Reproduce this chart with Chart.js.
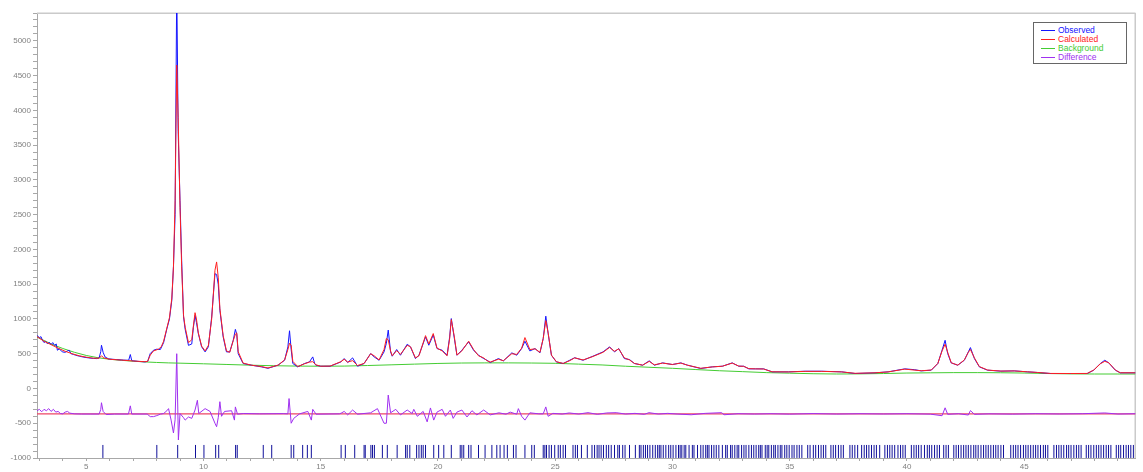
<!DOCTYPE html>
<html><head><meta charset="utf-8">
<script src="https://cdn.jsdelivr.net/npm/chart.js@4/dist/chart.umd.min.js"></script>
<style>
html,body{margin:0;padding:0;background:#fff;}
#wrap{position:relative;width:1143px;height:472px;}
#legend{position:absolute;left:1033px;top:22px;width:94px;height:42px;border:1px solid #666;background:#fff;box-sizing:border-box;font:8.5px "Liberation Sans",Arial,sans-serif;}
.row{position:absolute;left:0;height:9px;line-height:9px;white-space:nowrap;}
.row i{position:absolute;left:7px;top:4px;width:14px;height:1px;}
.row span{position:absolute;left:24px;top:0;}
</style>
</head><body>
<div id="wrap">
<canvas id="c" width="1143" height="472"></canvas>
<div id="legend"></div>
</div>
<script>
// 2-theta (deg) vs intensity
const observed = [[2.90,765],[3.00,730],[3.07,745],[3.13,694],[3.20,660],[3.27,680],[3.35,640],[3.42,665],[3.50,630],[3.57,660],[3.65,620],[3.72,640],[3.77,550],[3.85,570],[3.98,526],[4.10,520],[4.20,540],[4.27,550],[4.35,500],[4.45,490],[4.55,478],[4.70,465],[4.90,450],[5.10,440],[5.30,432],[5.45,430],[5.55,440],[5.62,530],[5.65,622],[5.72,520],[5.80,454],[5.95,425],[6.30,415],[6.60,408],[6.81,406],[6.88,488],[6.94,400],[7.20,390],[7.50,382],[7.62,390],[7.73,502],[7.87,550],[8.01,565],[8.16,560],[8.30,660],[8.44,860],[8.55,1000],[8.65,1270],[8.72,1750],[8.79,2500],[8.86,5800],[8.92,3700],[9.00,2700],[9.07,1840],[9.15,1030],[9.22,850],[9.36,620],[9.50,640],[9.57,880],[9.64,1050],[9.70,950],[9.78,790],[9.92,600],[10.07,526],[10.21,600],[10.35,1028],[10.49,1650],[10.56,1640],[10.63,1500],[10.70,1124],[10.84,742],[10.98,526],[11.12,526],[11.27,694],[11.36,850],[11.42,780],[11.48,502],[11.69,359],[12.04,335],[12.47,311],[12.75,290],[13.18,335],[13.46,406],[13.60,598],[13.67,830],[13.74,560],[13.81,359],[14.02,311],[14.31,359],[14.52,382],[14.66,454],[14.75,350],[14.80,335],[15.00,320],[15.40,320],[15.86,382],[16.00,430],[16.15,373],[16.36,440],[16.57,320],[16.85,359],[17.13,502],[17.28,454],[17.49,406],[17.70,526],[17.80,650],[17.88,840],[17.98,526],[18.05,464],[18.24,560],[18.40,478],[18.69,636],[18.83,598],[19.04,430],[19.19,478],[19.47,741],[19.61,622],[19.80,770],[19.96,574],[20.18,550],[20.39,478],[20.50,741],[20.57,1005],[20.70,718],[20.81,478],[21.02,550],[21.31,670],[21.52,550],[21.73,478],[21.95,430],[22.09,406],[22.23,373],[22.58,430],[22.79,396],[23.15,512],[23.36,478],[23.57,574],[23.71,680],[23.92,540],[24.14,574],[24.35,512],[24.49,718],[24.60,1040],[24.70,789],[24.84,478],[25.05,382],[25.34,359],[25.62,406],[25.83,442],[26.19,406],[26.61,464],[27.04,526],[27.32,598],[27.53,526],[27.71,574],[27.95,430],[28.17,416],[28.38,359],[28.73,335],[29.01,397],[29.23,335],[29.58,368],[30.00,344],[30.36,368],[30.64,335],[31.21,287],[31.70,311],[32.13,320],[32.55,368],[32.83,320],[33.04,320],[33.26,282],[33.54,282],[33.89,282],[34.25,239],[34.95,239],[35.66,248],[36.37,248],[37.22,239],[37.79,215],[38.64,225],[39.20,239],[39.91,282],[40.33,270],[40.61,253],[41.04,263],[41.32,359],[41.50,550],[41.63,693],[41.74,502],[41.89,368],[42.17,335],[42.45,406],[42.62,526],[42.71,588],[42.88,430],[43.09,311],[43.44,263],[44.01,249],[44.58,253],[45.14,239],[45.57,230],[46.13,215],[46.98,215],[47.69,215],[47.97,263],[48.25,359],[48.44,406],[48.61,368],[48.89,263],[49.10,225],[49.75,225]];

const calculated = [[2.90,745],[3.20,680],[3.50,630],[3.80,580],[4.10,535],[4.40,500],[4.70,470],[5.00,450],[5.30,435],[5.55,435],[5.65,470],[5.75,440],[6.00,420],[6.50,408],[7.00,395],[7.50,385],[7.62,390],[7.73,480],[7.87,540],[8.08,565],[8.20,600],[8.30,680],[8.44,870],[8.55,1020],[8.65,1300],[8.72,1750],[8.79,2700],[8.86,4650],[8.92,3900],[9.00,2600],[9.07,1750],[9.15,1050],[9.22,880],[9.36,660],[9.50,700],[9.57,900],[9.64,1090],[9.70,1000],[9.78,800],[9.92,610],[10.07,540],[10.21,620],[10.35,1000],[10.49,1700],[10.56,1820],[10.63,1600],[10.70,1150],[10.84,760],[10.98,540],[11.12,520],[11.27,690],[11.36,780],[11.42,800],[11.48,530],[11.69,365],[12.04,335],[12.47,315],[12.75,295],[13.18,335],[13.46,410],[13.60,560],[13.67,650],[13.74,620],[13.81,390],[14.02,315],[14.31,355],[14.52,380],[14.66,385],[14.80,340],[15.00,320],[15.40,322],[15.86,385],[16.00,420],[16.15,380],[16.36,400],[16.57,330],[16.85,360],[17.13,500],[17.28,470],[17.49,410],[17.70,560],[17.80,718],[17.88,700],[17.98,540],[18.05,470],[18.24,545],[18.40,490],[18.69,620],[18.83,600],[19.04,440],[19.19,470],[19.47,760],[19.61,640],[19.80,790],[19.96,580],[20.18,540],[20.39,470],[20.50,720],[20.57,990],[20.70,740],[20.81,480],[21.02,540],[21.31,680],[21.52,560],[21.73,470],[21.95,440],[22.09,400],[22.23,380],[22.58,420],[22.79,400],[23.15,500],[23.36,490],[23.57,580],[23.71,732],[23.92,560],[24.14,570],[24.35,520],[24.49,720],[24.60,976],[24.70,800],[24.84,480],[25.05,385],[25.34,360],[25.62,400],[25.83,440],[26.19,410],[26.61,460],[27.04,520],[27.32,590],[27.53,535],[27.71,570],[27.95,440],[28.17,410],[28.38,360],[28.73,335],[29.01,390],[29.23,340],[29.58,365],[30.00,345],[30.36,365],[30.64,335],[31.21,290],[31.70,310],[32.13,320],[32.55,365],[32.83,322],[33.04,318],[33.26,285],[33.54,282],[33.89,280],[34.25,240],[34.95,238],[35.66,246],[36.37,246],[37.22,238],[37.79,218],[38.64,225],[39.20,238],[39.91,278],[40.61,255],[41.04,265],[41.32,360],[41.50,540],[41.63,636],[41.74,520],[41.89,370],[42.17,335],[42.45,410],[42.62,520],[42.71,560],[42.88,440],[43.09,315],[43.44,265],[44.01,250],[44.58,252],[45.14,240],[45.57,230],[46.13,216],[46.98,215],[47.69,216],[47.97,265],[48.25,355],[48.44,390],[48.61,370],[48.89,265],[49.10,226],[49.75,225]];

const background = [[2.90,740],[3.50,640],[4.00,575],[4.50,520],[5.00,475],[5.50,442],[6.00,420],[6.50,405],[7.00,392],[7.50,382],[8.00,374],[8.50,368],[9.00,364],[10.00,355],[11.00,345],[12.00,335],[13.00,327],[14.00,322],[15.00,320],[16.00,322],[17.00,330],[18.00,340],[19.00,350],[20.00,360],[21.00,366],[22.00,368],[23.00,368],[24.00,366],[25.00,362],[26.00,350],[27.00,338],[28.00,320],[29.00,305],[30.00,290],[31.00,272],[32.00,255],[33.00,242],[34.00,228],[35.00,220],[36.00,212],[37.00,208],[38.00,210],[39.00,215],[40.00,222],[41.00,225],[42.00,228],[43.00,228],[44.00,226],[45.00,222],[46.00,215],[47.00,210],[48.00,208],[49.00,208],[49.75,208]];

// difference curve as plotted (offset baseline near -365)
const difference = [[2.90,-320],[3.00,-300],[3.10,-335],[3.20,-300],[3.30,-320],[3.40,-290],[3.50,-330],[3.60,-300],[3.70,-340],[3.80,-330],[3.90,-360],[4.00,-365],[4.10,-340],[4.20,-330],[4.30,-355],[4.50,-365],[4.80,-368],[5.20,-368],[5.55,-368],[5.62,-300],[5.65,-205],[5.72,-330],[5.85,-375],[6.20,-368],[6.80,-368],[6.88,-250],[6.94,-368],[7.60,-368],[7.73,-405],[7.87,-405],[8.01,-390],[8.16,-370],[8.30,-360],[8.44,-320],[8.51,-290],[8.62,-455],[8.72,-640],[8.79,-450],[8.86,500],[8.93,-740],[9.00,-360],[9.15,-420],[9.22,-455],[9.36,-410],[9.50,-430],[9.64,-310],[9.74,-170],[9.80,-360],[10.07,-290],[10.28,-330],[10.49,-500],[10.56,-550],[10.63,-420],[10.70,-190],[10.77,-400],[10.90,-330],[11.20,-320],[11.32,-455],[11.36,-265],[11.45,-370],[11.70,-360],[12.40,-365],[13.40,-362],[13.60,-365],[13.65,-145],[13.74,-500],[13.85,-430],[14.10,-365],[14.45,-330],[14.60,-455],[14.66,-300],[14.80,-370],[15.80,-365],[15.90,-350],[16.00,-330],[16.15,-380],[16.36,-310],[16.57,-370],[17.13,-350],[17.42,-290],[17.70,-500],[17.80,-500],[17.88,-95],[17.98,-350],[18.20,-300],[18.40,-380],[18.69,-310],[18.90,-360],[18.97,-300],[19.12,-400],[19.37,-330],[19.54,-480],[19.68,-280],[19.82,-455],[19.96,-340],[20.18,-300],[20.32,-400],[20.53,-310],[20.65,-430],[20.81,-340],[21.02,-310],[21.24,-410],[21.45,-320],[21.66,-380],[21.95,-310],[22.23,-380],[22.60,-350],[22.90,-370],[23.08,-340],[23.36,-370],[23.43,-290],[23.57,-400],[23.71,-455],[23.92,-350],[24.30,-365],[24.49,-365],[24.60,-265],[24.70,-400],[24.90,-358],[25.30,-368],[25.60,-352],[26.00,-368],[26.40,-348],[26.80,-372],[27.20,-352],[27.60,-348],[28.00,-368],[28.40,-358],[28.80,-372],[29.00,-348],[29.40,-368],[29.80,-358],[30.20,-368],[30.80,-378],[31.40,-358],[32.10,-348],[32.20,-378],[32.80,-363],[33.50,-368],[34.20,-363],[35.00,-369],[36.00,-361],[37.00,-368],[38.00,-363],[39.00,-367],[40.00,-363],[41.00,-369],[41.50,-392],[41.63,-278],[41.74,-372],[42.20,-363],[42.62,-382],[42.71,-318],[42.88,-372],[43.50,-365],[44.50,-369],[45.50,-363],[46.50,-367],[47.50,-363],[48.44,-352],[49.00,-368],[49.75,-363]];

const diffZero = [[2.90,-365],[49.75,-365]];

// reflection (hkl) positions
const reflections = [5.71,8.01,8.90,9.66,10.02,10.52,10.65,11.37,11.44,12.55,12.91,13.74,13.85,14.23,14.43,14.60,15.87,16.05,16.45,16.85,16.90,17.14,17.21,17.29,17.63,17.84,18.26,18.62,18.69,18.80,19.09,19.19,19.29,19.37,19.47,19.82,20.03,20.25,20.57,20.95,21.02,21.10,21.31,21.41,21.73,22.01,22.30,22.51,22.65,22.82,22.96,23.22,23.33,23.71,24.00,24.11,24.49,24.56,24.63,24.74,24.84,24.98,25.13,25.22,25.34,25.44,25.76,25.86,25.95,26.12,26.37,26.57,26.68,26.79,26.87,26.96,27.06,27.18,27.28,27.39,27.53,27.67,27.74,27.88,27.98,28.17,28.42,28.59,28.66,28.76,28.85,28.94,29.04,29.16,29.27,29.37,29.44,29.51,29.61,29.72,29.84,29.93,30.03,30.15,30.26,30.33,30.40,30.50,30.57,30.71,30.85,30.92,31.07,31.21,31.31,31.42,31.49,31.56,31.67,31.77,31.87,31.98,32.13,32.27,32.34,32.48,32.55,32.66,32.76,32.83,32.95,33.05,33.14,33.26,33.37,33.47,33.57,33.68,33.75,33.82,33.96,34.04,34.11,34.22,34.32,34.39,34.50,34.60,34.67,34.79,34.88,34.98,35.10,35.19,35.31,35.41,35.52,35.77,35.87,36.01,36.11,36.23,36.34,36.44,36.54,36.76,36.86,36.96,37.08,37.19,37.29,37.57,37.67,37.78,37.90,38.07,38.18,38.28,38.38,38.49,38.60,38.70,38.84,39.06,39.17,39.27,39.37,39.48,39.62,39.73,39.83,39.93,40.19,40.30,40.40,40.50,40.61,40.75,40.87,40.96,41.06,41.18,41.29,41.39,41.57,41.67,41.77,42.00,42.10,42.20,42.31,42.42,42.52,42.62,42.73,42.85,42.94,43.04,43.16,43.27,43.37,43.47,43.58,43.69,43.79,43.89,44.01,44.12,44.43,44.54,44.64,44.74,44.85,44.97,45.07,45.17,45.28,45.39,45.49,45.59,45.70,45.82,45.91,46.01,46.27,46.38,46.48,46.58,46.69,46.81,46.90,47.00,47.12,47.23,47.33,47.43,47.65,47.75,47.85,47.97,48.08,48.18,48.28,48.39,48.50,48.60,48.70,48.93,49.03,49.12,49.24,49.35,49.45,49.55,49.66];

const reflectionLevel = -906;
const seriesNames = ['Observed','Calculated','Background','Difference'];
const seriesColors = ['#1414ff','#ff2020','#44cc33','#a030f0'];
const xMin = 2.9, xMax = 49.75, yMin = -1000, yMax = 5400;

const toXY = arr => arr.map(p => ({x:p[0], y:p[1]}));

// HTML legend
const lg = document.getElementById('legend');
seriesNames.forEach((n,i)=>{
  const r = document.createElement('div');
  r.className='row';
  r.style.top = (3 + i*8.9) + 'px';
  r.innerHTML = '<i style="background:'+seriesColors[i]+'"></i><span style="color:'+seriesColors[i]+'">'+n+'</span>';
  lg.appendChild(r);
});

const framePlugin = {
  id:'frame',
  beforeDatasetsDraw(chart){
    const {ctx, chartArea:a} = chart;
    ctx.save();
    ctx.strokeStyle='#cacaca';
    ctx.lineWidth=1.5;
    ctx.beginPath();
    ctx.moveTo(a.left, a.top+0.25); ctx.lineTo(a.right, a.top+0.25);
    ctx.moveTo(a.right-0.25, a.top); ctx.lineTo(a.right-0.25, a.bottom);
    ctx.stroke();
    ctx.restore();
  }
};

const lineDs = (label, data, color, order, width) => ({
  label, data: toXY(data), borderColor: color, backgroundColor: color,
  borderWidth: width || 1, pointRadius: 0, tension: 0, fill: false, order
});

new Chart(document.getElementById('c'), {
  type: 'line',
  data: {
    datasets: [
      lineDs(seriesNames[1], calculated, seriesColors[1], 1),
      lineDs(seriesNames[0], observed, seriesColors[0], 2),
      lineDs(seriesNames[2], background, seriesColors[2], 3),
      lineDs(seriesNames[3], difference, seriesColors[3], 4),
      lineDs('zero', diffZero, '#ee4466', 5, 1.4),
      {
        label:'Reflections', data: reflections.map(x=>({x, y:reflectionLevel})),
        showLine:false, pointStyle:'line', pointRotation:90, pointRadius:6.5,
        pointBorderColor:'#10109a', pointBorderWidth:1, pointBackgroundColor:'#10109a',
        order: 6
      }
    ]
  },
  options: {
    responsive:false, animation:false, devicePixelRatio:1, events:[],
    layout:{padding:{top:13, right:1, left:0, bottom:0}},
    plugins:{legend:{display:false}, tooltip:{enabled:false}},
    scales:{
      x:{
        type:'linear', min:xMin, max:xMax,
        afterFit(s){ s.height = 14; },
        border:{display:true, color:'#a8a8a8', width:1},
        grid:{drawOnChartArea:false, drawTicks:true, tickLength:3, tickColor:'#a8a8a8'},
        ticks:{stepSize:1, includeBounds:false, autoSkip:false, maxRotation:0, padding:1,
          color:'#808080', font:{family:'"Liberation Sans", Arial, sans-serif', size:8},
          callback:v => (Math.round(v) % 5 === 0 ? String(Math.round(v)) : '')}
      },
      y:{
        type:'linear', min:yMin, max:yMax,
        afterFit(s){ s.width = 37; },
        border:{display:true, color:'#a8a8a8', width:1},
        grid:{drawOnChartArea:false, drawTicks:true, tickLength:4, tickColor:'#a8a8a8'},
        ticks:{stepSize:100, includeBounds:false, autoSkip:false, padding:2,
          color:'#808080', font:{family:'"Liberation Sans", Arial, sans-serif', size:8},
          callback:v => (Math.round(v) % 500 === 0 ? String(Math.round(v)) : '')}
      }
    }
  },
  plugins:[framePlugin]
});
</script>
</body></html>
